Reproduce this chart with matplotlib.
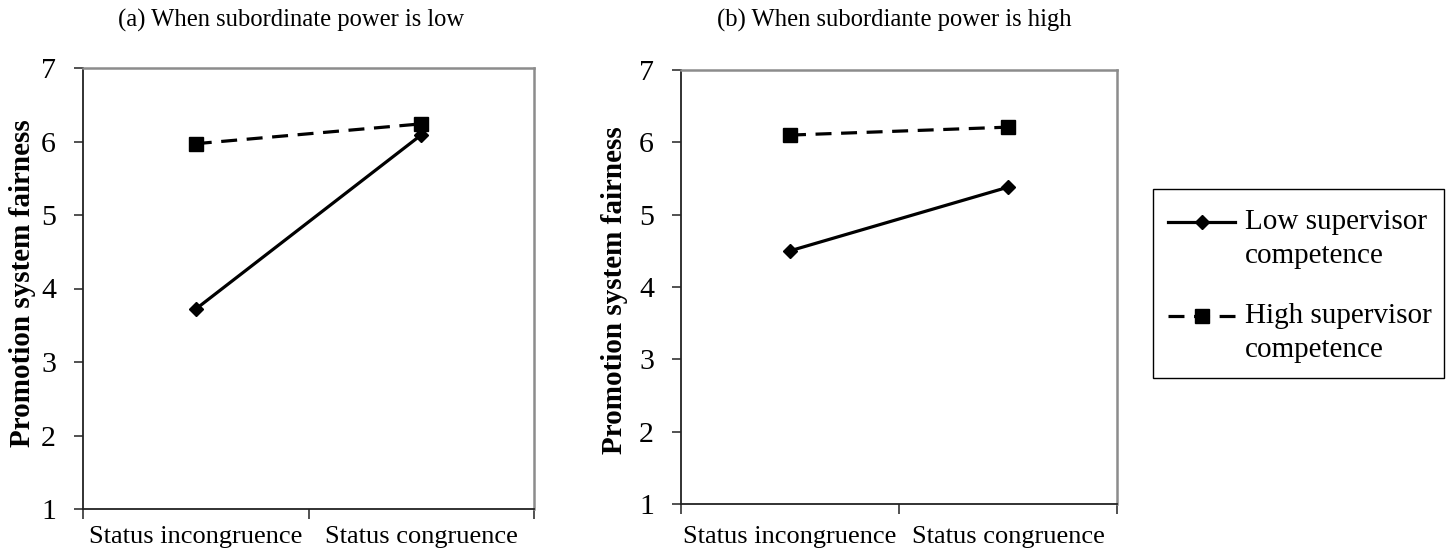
import matplotlib
matplotlib.use("Agg")
import matplotlib.pyplot as plt
from matplotlib.ticker import FixedLocator, NullFormatter
from matplotlib.lines import Line2D
from matplotlib.patches import Rectangle

plt.rcParams['font.family'] = ['Liberation Serif', 'DejaVu Serif']

categories = ["Status incongruence", "Status congruence"]
titles = ["(a) When subordinate power is low", "(b) When subordiante power is high"]
series_names = ["Low supervisor\ncompetence", "High supervisor\ncompetence"]
low_power_low_comp = [3.72, 6.09]
low_power_high_comp = [5.97, 6.24]
high_power_low_comp = [4.50, 5.38]
high_power_high_comp = [6.10, 6.21]
y_ticks = [1, 2, 3, 4, 5, 6, 7]
y_label = "Promotion system fairness"

W, H = 1452, 556
fig = plt.figure(figsize=(W / 100, H / 100), dpi=100)

def box(l, r, t, b):
    return [l / W, 1 - b / H, (r - l) / W, (b - t) / H]

def fx(px):
    return px / W

def fy(py):
    return 1 - py / H

axes = [fig.add_axes(box(83, 534, 68, 509)), fig.add_axes(box(681, 1117, 70, 504))]
data = [(low_power_low_comp, low_power_high_comp), (high_power_low_comp, high_power_high_comp)]
title_x = [291, 894]
ylabel_x = [23, 615]
ylabel_y = [283, 290]
xlabel_pad = [12.5, 16]

styles = [dict(color='black', lw=2.3, ls='-', marker='D', markersize=7.5),
          dict(color='black', lw=2.3, ls=(0, (5, 3)), marker='s', markersize=10)]

xpos = [0.5, 1.5]
for i, ax in enumerate(axes):
    low, high = data[i]
    ax.plot(xpos, low, **styles[0])
    ax.plot(xpos, high, **styles[1])
    ax.set_xlim(0, 2)
    ax.set_ylim(1, 7)
    ax.set_yticks(y_ticks)
    ax.set_yticklabels([str(v) for v in y_ticks], fontsize=21.5)
    ax.xaxis.set_major_locator(FixedLocator([0, 1, 2]))
    ax.xaxis.set_major_formatter(NullFormatter())
    ax.xaxis.set_minor_locator(FixedLocator(xpos))
    ax.set_xticklabels(categories, minor=True, fontsize=19)
    ax.tick_params(axis='x', which='minor', length=0, pad=xlabel_pad[i])
    ax.tick_params(axis='x', which='major', length=7, width=1.2, color='#333333', direction='out')
    ax.tick_params(axis='y', length=6.5, width=1.2, color='#333333', direction='out', pad=13)
    for s in ['left', 'bottom']:
        ax.spines[s].set_color('#222222')
        ax.spines[s].set_linewidth(1.3)
    for s in ['top', 'right']:
        ax.spines[s].set_color('#8c8c8c')
        ax.spines[s].set_linewidth(1.8)
    fig.text(fx(ylabel_x[i]), fy(ylabel_y[i]), y_label, rotation=90, ha='center', va='center',
             fontsize=21, fontweight='bold')
    fig.text(fx(title_x[i]), fy(20), titles[i], ha='center', va='center', fontsize=17.7)

# legend (drawn as a framed box with sample lines and labels)
fig.patches.append(Rectangle((fx(1153), fy(378)), fx(1444) - fx(1153), fy(189) - fy(378),
                             transform=fig.transFigure, facecolor='white',
                             edgecolor='black', lw=1.0, zorder=5))
entry_y = [222, 316]
for k, name in enumerate(series_names):
    y = fy(entry_y[k])
    st = dict(styles[k])
    mk = st.pop('marker'); ms = st.pop('markersize')
    fig.lines.append(Line2D([fx(1168), fx(1235)], [y, y], transform=fig.transFigure,
                            zorder=6, **st))
    fig.lines.append(Line2D([fx(1202)], [y], transform=fig.transFigure, marker=mk,
                            markersize=ms, color='black', ls='none', zorder=7))
    for j, line in enumerate(name.split('\n')):
        fig.text(fx(1245), fy(entry_y[k] + 34 * j), line, ha='left', va='center',
                 fontsize=21, zorder=8)

fig.savefig("out.png", dpi=100)
